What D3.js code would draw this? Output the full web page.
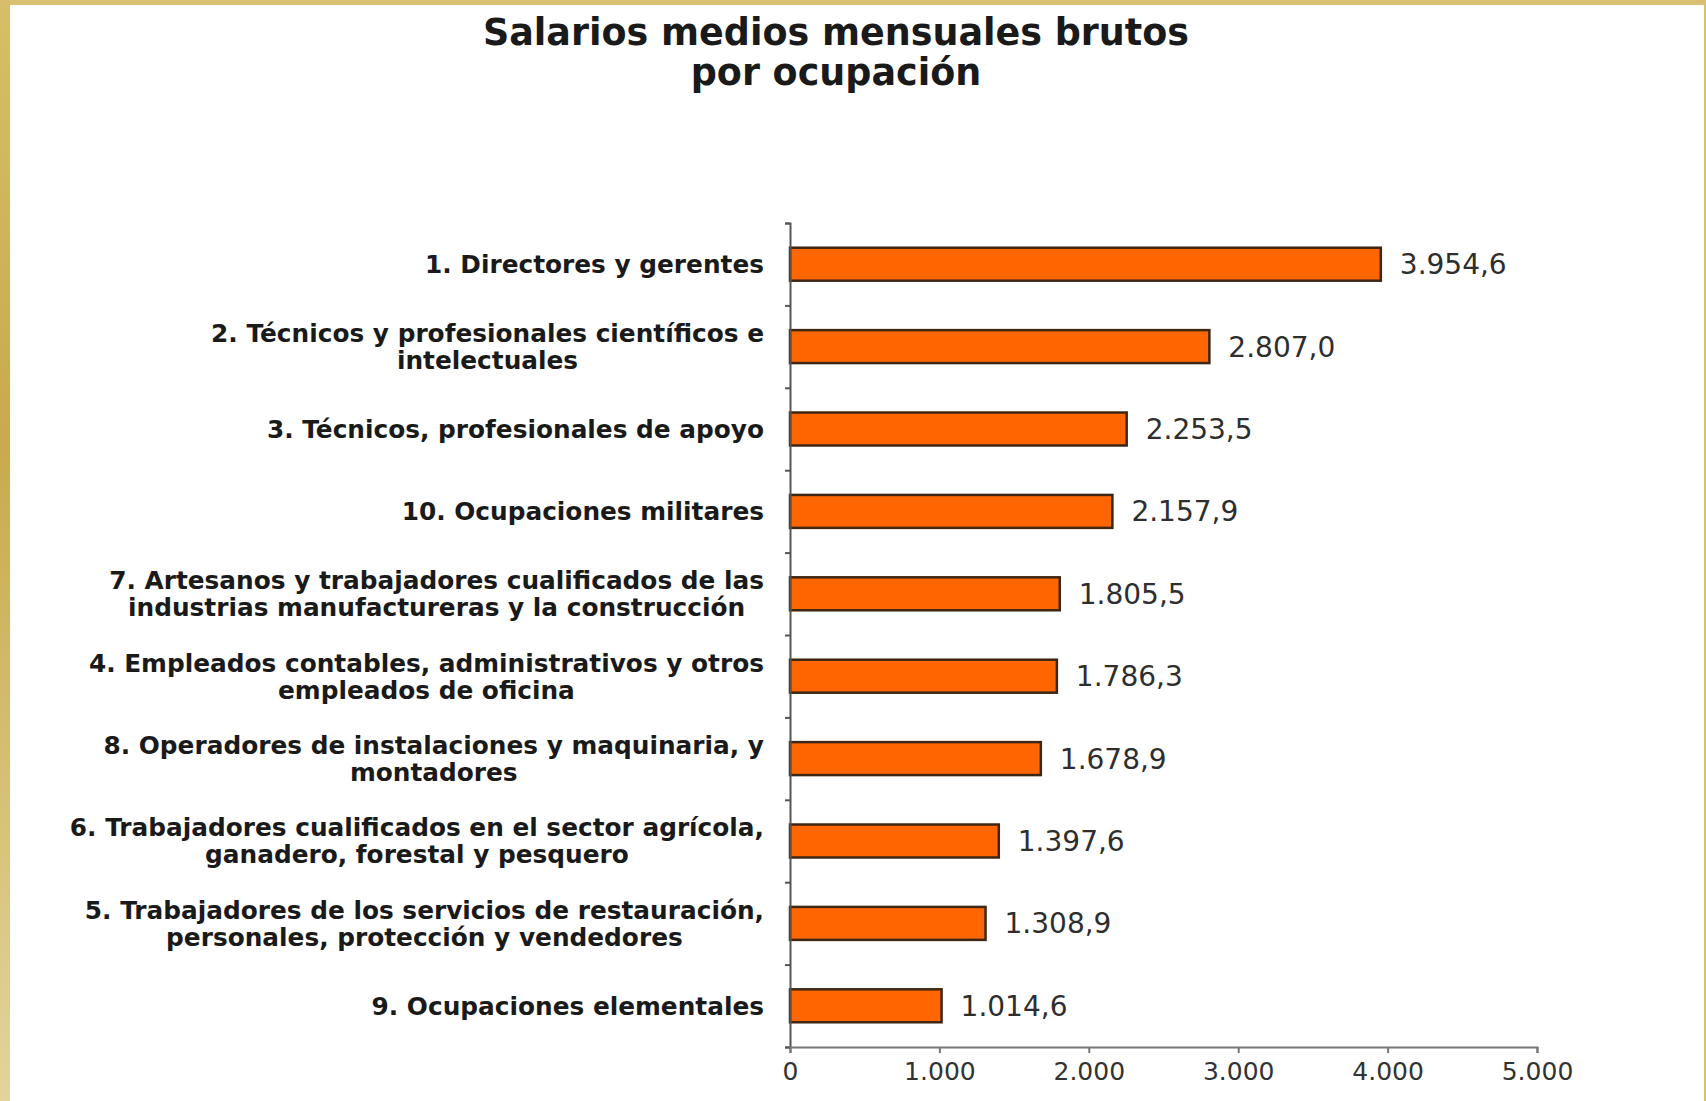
<!DOCTYPE html>
<html>
<head>
<meta charset="utf-8">
<script src="https://cdn.jsdelivr.net/npm/d3@7"></script>
<style>
  body { margin: 0; background: #fff; }
  svg { display: block; }
</style>
</head>
<body>
<div id="chart"></div>
<script>
// occupations, top to bottom as in the chart (each entry = label lines)
var categories = [
	["1. Directores y gerentes"],
	["2. Técnicos y profesionales científicos e", "intelectuales"],
	["3. Técnicos, profesionales de apoyo"],
	["10. Ocupaciones militares"],
	["7. Artesanos y trabajadores cualificados de las", "industrias manufactureras y la construcción"],
	["4. Empleados contables, administrativos y otros", "empleados de oficina"],
	["8. Operadores de instalaciones y maquinaria, y", "montadores"],
	["6. Trabajadores cualificados en el sector agrícola,", "ganadero, forestal y pesquero"],
	["5. Trabajadores de los servicios de restauración,", "personales, protección y vendedores"],
	["9. Ocupaciones elementales"]
];
var salaries = [3954.6, 2807.0, 2253.5, 2157.9, 1805.5, 1786.3, 1678.9, 1397.6, 1308.9, 1014.6];
var xTicks = [0, 1000, 2000, 3000, 4000, 5000];
var titleLines = ["Salarios medios mensuales brutos", "por ocupación"];

drawChart("chart");

function drawChart(container){
	var W = 1706, H = 1101;
	var left = 790, right = 1537, top = 223, bottom = 1047;

	var es = d3.formatLocale({decimal: ",", thousands: ".", grouping: [3], currency: ["", " €"]});
	var fmtVal = es.format(",.1f"),
		fmtTick = es.format(",");

	var svg = d3.select("#"+container).append("svg")
		.attr("width", W)
		.attr("height", H);

	// frame
	var defs = svg.append("defs");
	var grad = defs.append("linearGradient").attr("id", "goldLeft")
		.attr("x1", 0).attr("y1", 0).attr("x2", 0).attr("y2", 1);
	grad.append("stop").attr("offset", "0%").attr("stop-color", "#d6bf68");
	grad.append("stop").attr("offset", "40%").attr("stop-color", "#c9aa4c");
	grad.append("stop").attr("offset", "100%").attr("stop-color", "#e3d49c");

	svg.append("rect").attr("width", W).attr("height", H).attr("fill", "#fff");
	svg.append("rect").attr("x", 0).attr("y", 0).attr("width", W).attr("height", 5).attr("fill", "#d8c070");
	svg.append("rect").attr("x", W-2).attr("y", 0).attr("width", 2).attr("height", H).attr("fill", "#d8c070");
	svg.append("rect").attr("x", 0).attr("y", 0).attr("width", 10).attr("height", H).attr("fill", "url(#goldLeft)");

	// title
	svg.selectAll(".title")
		.data(titleLines)
		.enter()
		.append("text")
		.attr("class", "title")
		.attr("x", 836)
		.attr("y", function(d, i) { return 45 + i*40; })
		.style("text-anchor", "middle")
		.style("font-family", "DejaVu Sans, sans-serif")
		.style("font-weight", "bold")
		.style("font-size", "36.5px")
		.style("fill", "#1a1a1a")
		.text(function(d) { return d; });

	var x = d3.scaleLinear().domain([0, 5000]).range([left, right]);
	var y = d3.scaleBand().domain(d3.range(categories.length)).range([top, bottom]).padding(0);
	var barH = y.step()*0.40;

	// bars
	svg.selectAll(".bar")
		.data(salaries)
		.enter()
		.append("rect")
		.attr("class", "bar")
		.attr("x", x(0))
		.attr("y", function(d, i) { return y(i) + (y.step()-barH)/2; })
		.attr("width", function(d) { return x(d) - x(0); })
		.attr("height", barH)
		.style("fill", "#ff6600")
		.style("stroke", "#3d2612")
		.style("stroke-width", 2.5);

	// value labels
	svg.selectAll(".val")
		.data(salaries)
		.enter()
		.append("text")
		.attr("class", "val")
		.attr("x", function(d) { return x(d) + 19; })
		.attr("y", function(d, i) { return y(i) + y.step()/2; })
		.attr("dy", "0.36em")
		.style("font-family", "DejaVu Sans, sans-serif")
		.style("font-size", "28px")
		.style("fill", "#2e2e2e")
		.text(function(d) { return fmtVal(d); });

	// category labels: block right-aligned, lines centred within the block
	var labelRight = 764, lineGap = 27;
	var labels = svg.selectAll(".cat")
		.data(categories)
		.enter()
		.append("g")
		.attr("class", "cat");
	labels.each(function(lines, i) {
		var g = d3.select(this);
		var cy = y(i) + y.step()/2;
		var texts = g.selectAll("text")
			.data(lines)
			.enter()
			.append("text")
			.attr("y", function(d, j) { return cy + (j - (lines.length-1)/2)*lineGap; })
			.attr("dy", "0.36em")
			.style("font-family", "DejaVu Sans, sans-serif")
			.style("font-weight", "bold")
			.style("font-size", "24.8px")
			.style("fill", "#1a1a1a")
			.style("text-anchor", "middle")
			.text(function(d) { return d; });
		var maxW = 0;
		texts.each(function() { maxW = Math.max(maxW, this.getComputedTextLength()); });
		texts.attr("x", labelRight - maxW/2);
	});

	// y axis with ticks on the band boundaries
	var yEdges = d3.scaleLinear().domain([0, categories.length]).range([top, bottom]);
	svg.append("g")
		.attr("transform", "translate(" + left + ",0)")
		.call(d3.axisLeft(yEdges).ticks(categories.length).tickSize(5).tickFormat(""))
		.call(function(g) {
			g.selectAll("line, path").attr("stroke", "#555").attr("stroke-width", 2);
		});

	// x axis
	svg.append("g")
		.attr("transform", "translate(0," + bottom + ")")
		.call(d3.axisBottom(x).tickValues(xTicks).tickSize(6).tickPadding(9).tickFormat(fmtTick))
		.call(function(g) {
			g.selectAll("line, path").attr("stroke", "#777").attr("stroke-width", 2);
			g.selectAll("text")
				.style("font-family", "DejaVu Sans, sans-serif")
				.style("font-size", "25px")
				.style("fill", "#333");
		});
}
</script>
</body>
</html>
